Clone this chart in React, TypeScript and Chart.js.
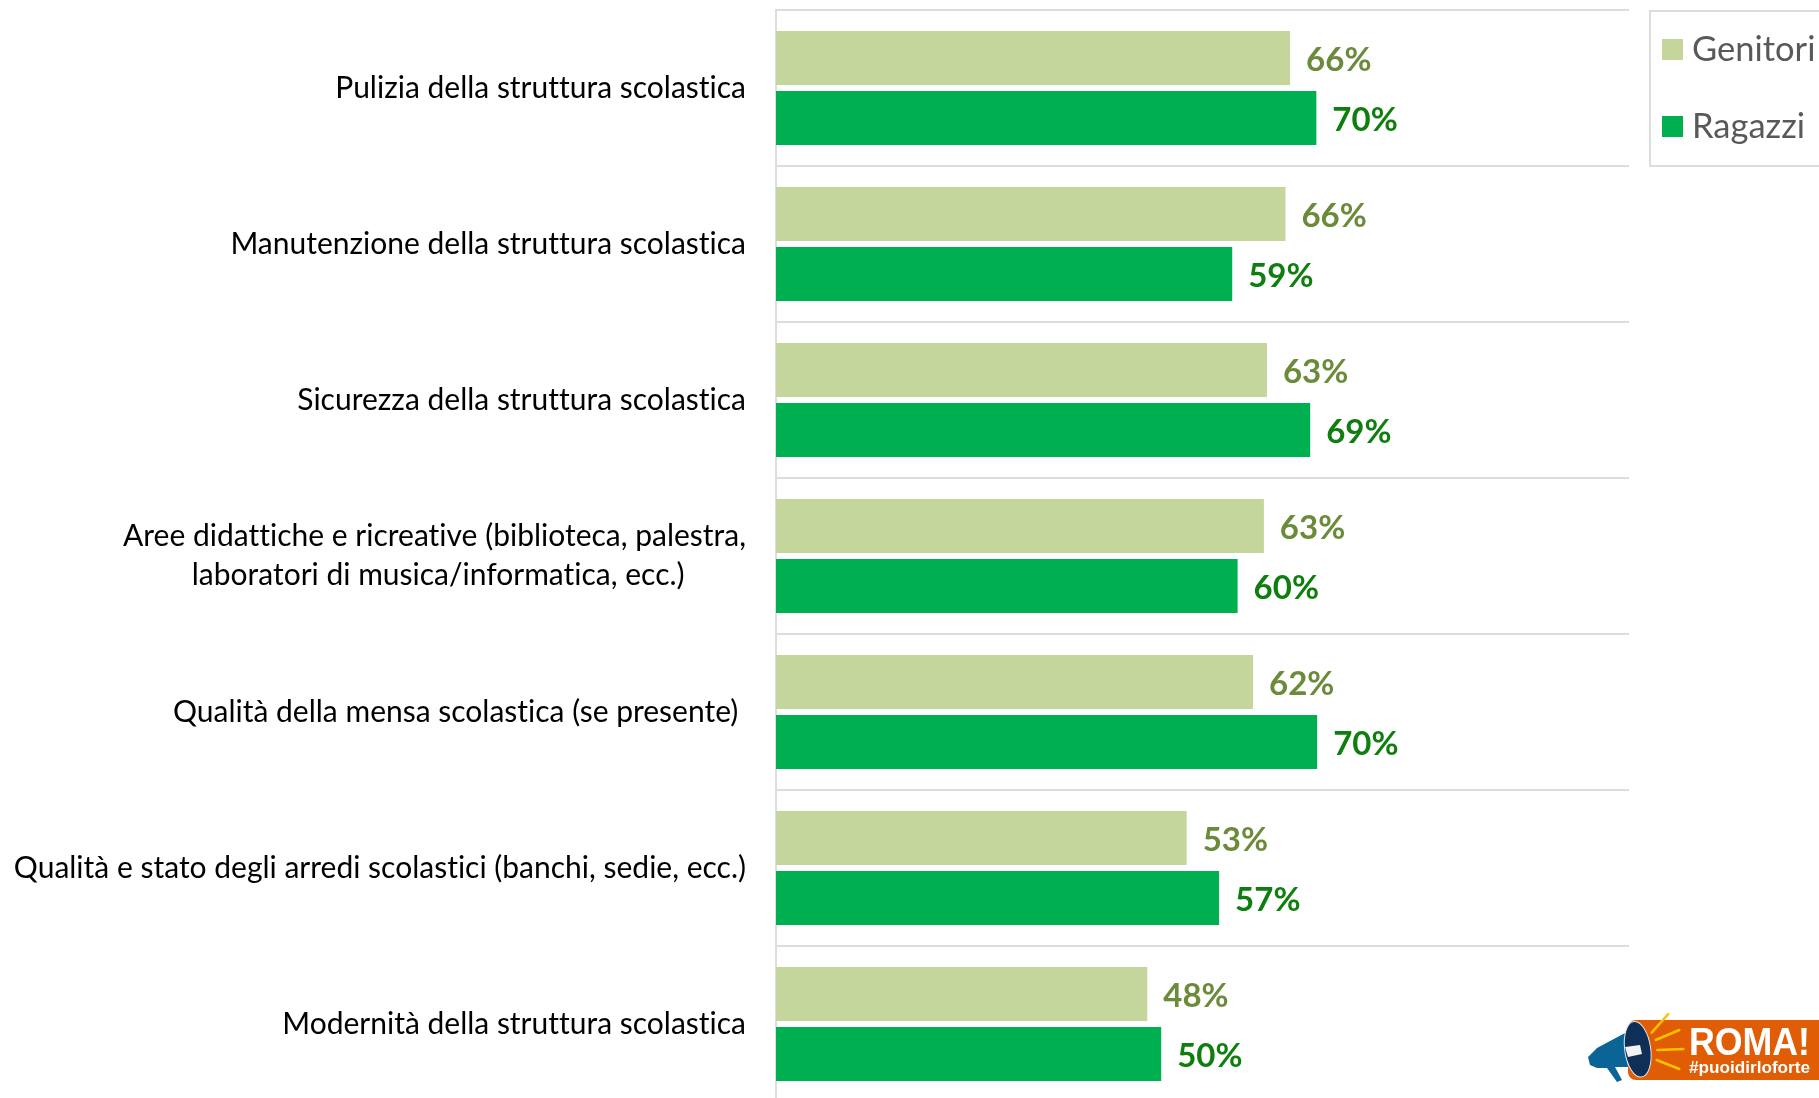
import React, { useEffect, useRef } from "react";
import { Chart, registerables } from "chart.js";

Chart.register(...registerables);

const categories = [
  "Pulizia della struttura scolastica",
  "Manutenzione della struttura scolastica",
  "Sicurezza della struttura scolastica",
  ["Aree didattiche e ricreative (biblioteca, palestra,", "laboratori di musica/informatica, ecc.)        "],
  "Qualità della mensa scolastica (se presente) ",
  "Qualità e stato degli arredi scolastici (banchi, sedie, ecc.)",
  "Modernità della struttura scolastica",
];
const genitori = [66.6, 66.0, 63.6, 63.2, 61.8, 53.2, 48.1];
const ragazzi = [70.0, 59.1, 69.2, 59.8, 70.1, 57.4, 49.9];
const genitoriLabels = ["66%", "66%", "63%", "63%", "62%", "53%", "48%"];
const ragazziLabels = ["70%", "59%", "69%", "60%", "70%", "57%", "50%"];
const seriesNames = ["Genitori", "Ragazzi"];
const seriesColors = ["#C4D69B", "#00B050"];
const labelColors = ["#6B8A3A", "#0E7F0E"];
const allLabels = [genitoriLabels, ragazziLabels];
const FONT = "Lato, Carlito, 'Noto Sans', sans-serif";

const noLigatures = {
  id: "noLigatures",
  beforeDraw(chart: any) {
    chart.ctx.textRendering = "optimizeSpeed";
  },
};

const valueLabels = {
  id: "valueLabels",
  afterDatasetsDraw(chart: any) {
    const { ctx } = chart;
    ctx.save();
    ctx.font = `bold 33px ${FONT}`;
    ctx.textAlign = "left";
    ctx.textBaseline = "middle";
    chart.data.datasets.forEach((_: any, d: number) => {
      ctx.fillStyle = labelColors[d];
      chart.getDatasetMeta(d).data.forEach((bar: any, i: number) => {
        ctx.fillText(allLabels[d][i], bar.x + 16, bar.y + 2);
      });
    });
    ctx.restore();
  },
};

export default function App() {
  const ref = useRef<HTMLCanvasElement>(null);
  useEffect(() => {
    const chart = new Chart(ref.current!, {
      type: "bar",
      data: {
        labels: categories as any,
        datasets: [
          { label: seriesNames[0], data: genitori, backgroundColor: seriesColors[0], categoryPercentage: 120 / 156, barPercentage: 0.9 },
          { label: seriesNames[1], data: ragazzi, backgroundColor: seriesColors[1], categoryPercentage: 120 / 156, barPercentage: 0.9 },
        ],
      },
      options: {
        indexAxis: "y",
        responsive: false,
        animation: false,
        layout: { padding: { top: 10, bottom: 8, left: 0, right: 190 } },
        plugins: { legend: { display: false }, tooltip: { enabled: false } },
        scales: {
          x: { min: 0, max: 110.5, display: false, grid: { display: false } },
          y: {
            afterFit(scale: any) { scale.width = 776; scale.paddingTop = 0; scale.paddingBottom = 0; },
            grid: { color: "#DDDDDD", lineWidth: 2, drawTicks: false, offset: true },
            border: { color: "#DDDDDD", width: 2 },
            ticks: { color: "#000000", font: { family: FONT, size: 30, lineHeight: 1.32 }, padding: 30, autoSkip: false } as any,
          },
        },
      },
      plugins: [noLigatures, valueLabels],
    } as any);
    return () => chart.destroy();
  }, []);

  return (
    <div style={{ position: "absolute", left: 0, top: 0, width: 1819, height: 1098, overflow: "hidden", background: "#fff", fontFamily: FONT }}>
      <canvas ref={ref} width={1819} height={1110} style={{ display: "block" }} />
      <div style={{ position: "absolute", left: 1649, top: 10, width: 200, height: 153, border: "2px solid #DDDDDD" }} />
      {seriesNames.map((n, i) => (
        <div key={n} style={{ position: "absolute", left: 1662, top: i === 0 ? 21 : 98, height: 52, display: "flex", alignItems: "center", fontSize: 34.5, color: "#595959", whiteSpace: "nowrap" }}>
          <span style={{ display: "inline-block", width: 21, height: 21, background: seriesColors[i], marginRight: 9, marginTop: 4 }} />
          {n}
        </div>
      ))}
      <svg style={{ position: "absolute", left: 1585, top: 1010 }} width="234" height="88" viewBox="0 0 234 88">
        <rect x="43" y="10" width="200" height="60" rx="8" fill="#E05C05" />
        <path d="M40 23 L12 38 L3 47 L5 55 L12 58 L22 58 L32 72 L37 70 L30 57 L43 57Z" fill="#0A6496" />
        <ellipse cx="52.7" cy="39.3" rx="13" ry="28" transform="rotate(-8 52.7 39.3)" fill="#0F2F57" stroke="#dfe8ef" strokeWidth="1" />
        <path d="M40 37 L55 35 L57 44 L43 47Z" fill="#f2f2f2" />
        <g stroke="#FFC000" strokeWidth="2.5" strokeLinecap="round">
          <line x1="66.7" y1="22.7" x2="83.3" y2="4" /><line x1="70.7" y1="30" x2="94.3" y2="20" />
          <line x1="72.3" y1="40" x2="98.3" y2="39" /><line x1="71.7" y1="50" x2="94.3" y2="59" />
        </g>
        <text x="104" y="45" fontFamily="Liberation Sans" fontWeight="bold" fontSize="39" textLength="121" lengthAdjust="spacingAndGlyphs" fill="#fff">ROMA!</text>
        <text x="104" y="63" fontFamily="Liberation Sans" fontWeight="bold" fontSize="16" textLength="121" lengthAdjust="spacingAndGlyphs" fill="#fff">#puoidirloforte</text>
      </svg>
    </div>
  );
}
